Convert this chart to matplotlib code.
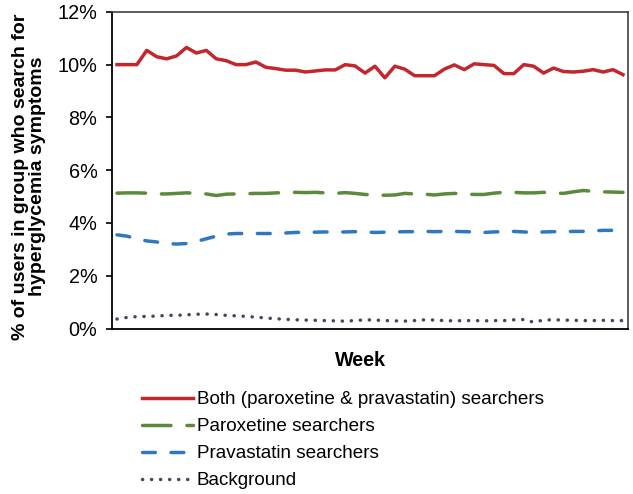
import numpy as np
import matplotlib
matplotlib.use("Agg")
import matplotlib.pyplot as plt
from matplotlib.ticker import FuncFormatter

plt.rcParams['font.family'] = ['Liberation Sans', 'DejaVu Sans']

weeks = np.arange(1, 53)

both = [10.0, 10.0, 10.0, 10.54, 10.3, 10.22, 10.33, 10.65, 10.44, 10.54,
        10.22, 10.15, 10.0, 10.0, 10.1, 9.9, 9.85, 9.79, 9.79, 9.72,
        9.76, 9.8, 9.8, 10.0, 9.95, 9.68, 9.94, 9.5, 9.94, 9.83,
        9.58, 9.58, 9.58, 9.83, 9.99, 9.81, 10.03, 10.0, 9.97, 9.66,
        9.66, 10.0, 9.94, 9.68, 9.87, 9.74, 9.72, 9.75, 9.81, 9.72,
        9.81, 9.62]

paroxetine = [5.13, 5.14, 5.14, 5.13, 5.1, 5.1, 5.12, 5.14, 5.13, 5.1,
              5.04, 5.09, 5.1, 5.11, 5.12, 5.12, 5.14, 5.15, 5.16, 5.15,
              5.16, 5.14, 5.12, 5.15, 5.12, 5.08, 5.06, 5.05, 5.06, 5.12,
              5.1, 5.09, 5.06, 5.1, 5.12, 5.1, 5.08, 5.08, 5.13, 5.16,
              5.16, 5.14, 5.14, 5.16, 5.14, 5.12, 5.18, 5.23, 5.2, 5.18,
              5.17, 5.16]

pravastatin = [3.55, 3.5, 3.4, 3.32, 3.28, 3.22, 3.2, 3.22, 3.3, 3.4,
               3.5, 3.58, 3.6, 3.6, 3.6, 3.6, 3.6, 3.62, 3.64, 3.65,
               3.65, 3.66, 3.65, 3.66, 3.67, 3.66, 3.64, 3.65, 3.66, 3.67,
               3.67, 3.68, 3.67, 3.68, 3.68, 3.67, 3.66, 3.64, 3.66, 3.67,
               3.68, 3.66, 3.64, 3.66, 3.67, 3.67, 3.68, 3.68, 3.7, 3.72,
               3.72, 3.71]

background = [0.36, 0.42, 0.45, 0.46, 0.47, 0.5, 0.5, 0.52, 0.54, 0.55,
              0.53, 0.5, 0.48, 0.46, 0.43, 0.4, 0.37, 0.35, 0.33, 0.32,
              0.31, 0.3, 0.29, 0.28, 0.3, 0.33, 0.32, 0.3, 0.29, 0.28,
              0.3, 0.33, 0.32, 0.3, 0.29, 0.3, 0.3, 0.29, 0.3, 0.3,
              0.33, 0.34, 0.24, 0.32, 0.33, 0.32, 0.31, 0.3, 0.3, 0.31,
              0.3, 0.3]

labels = ["Both (paroxetine & pravastatin) searchers", "Paroxetine searchers",
          "Pravastatin searchers", "Background"]

fig = plt.figure(figsize=(6.33, 4.94), dpi=100)
ax = fig.add_axes([0.177, 0.335, 0.815, 0.641])

lw = 2.5
h1, = ax.plot(weeks, both, color='#C1272D', lw=lw, solid_joinstyle='round')
h2, = ax.plot(weeks, paroxetine, color='#5A8A3A', lw=lw,
              linestyle=(0, (8.2, 4.6)), dash_capstyle='round')
h3, = ax.plot(weeks, pravastatin, color='#2F78C0', lw=lw,
              linestyle=(0, (3.7, 4.5)), dash_capstyle='round')
h4, = ax.plot(weeks, background, color='#3F4A60', lw=lw,
              linestyle=(0, (0.05, 2.55)), dash_capstyle='round')

ax.set_xlim(0.5, 52.5)
ax.set_ylim(0, 12)
ax.set_yticks(np.arange(0, 13, 2))
ax.yaxis.set_major_formatter(FuncFormatter(lambda v, p: f"{v:.0f}%"))
ax.set_xticks([])
ax.tick_params(axis='y', direction='out', length=4.5, width=1.2,
               labelsize=14.3, pad=6)
for s in ['left', 'bottom']:
    ax.spines[s].set_color('black')
    ax.spines[s].set_linewidth(1.3)
for s in ['top', 'right']:
    ax.spines[s].set_color('#404040')
    ax.spines[s].set_linewidth(1.2)

ax.set_ylabel("% of users in group who search for\nhyperglycemia symptoms",
              fontsize=14, fontweight='bold', linespacing=1.0)
ax.yaxis.set_label_coords(-0.128, 0.48)
fig.text(360 / 633, 1 - 360 / 494, "Week", fontsize=14.2, fontweight='bold',
         ha='center', va='center')

fig.legend([h1, h2, h3, h4], labels, loc='upper left',
           bbox_to_anchor=(142 / 633, 1 - 391 / 494), frameon=False,
           fontsize=13.6, handlelength=2.7, handletextpad=0.2,
           labelspacing=0.52, borderaxespad=0, borderpad=0)

fig.savefig("out.png", dpi=100)
